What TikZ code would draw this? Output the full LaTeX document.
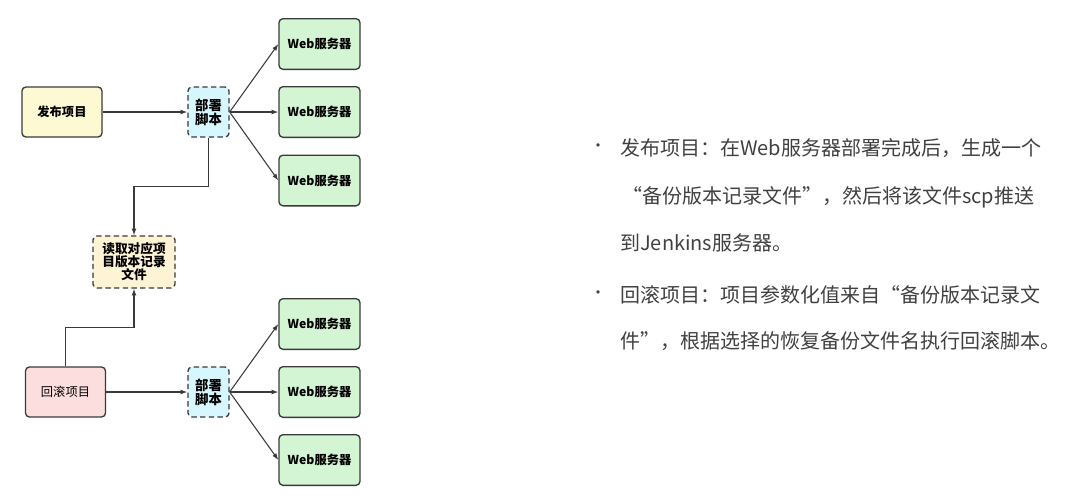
\documentclass[tikz,border=0pt]{standalone}
\usepackage{fontspec}
\setmainfont{Noto Sans CJK SC}
\usepackage{xcolor}
\usetikzlibrary{arrows.meta,positioning,calc}
\definecolor{edgegray}{HTML}{3A3A3A}
\definecolor{txtgray}{HTML}{404040}
\definecolor{pubfill}{HTML}{FDFAD3}
\definecolor{scrfill}{HTML}{D6F7FD}
\definecolor{webfill}{HTML}{D4F5D4}
\definecolor{rdfill}{HTML}{FFF3D6}
\definecolor{rbfill}{HTML}{FDDEDE}
\tikzset{
	blk/.style={draw=edgegray, rounded corners=3pt, line width=1pt, align=center,
		inner sep=1pt, font=\fontsize{9.2}{11}\selectfont\bfseries},
	pub/.style={blk, fill=pubfill, minimum width=60pt, minimum height=37.5pt},
	rb/.style={pub, fill=rbfill, font=\fontsize{9.2}{11}\selectfont},
	scr/.style={blk, fill=scrfill, dash pattern=on 4pt off 2.5pt,
		minimum width=30.75pt, minimum height=37.5pt, font=\fontsize{10}{10.5}\selectfont\bfseries},
	web/.style={blk, fill=webfill, minimum width=60.75pt, minimum height=38pt},
	rd/.style={blk, fill=rdfill, dash pattern=on 4pt off 2.5pt,
		minimum width=61.5pt, minimum height=39pt, font=\fontsize{9.5}{9.8}\selectfont\bfseries},
	con/.style={draw=edgegray, line width=0.8pt},
	desc/.style={anchor=west, text=txtgray, inner sep=0pt, font=\fontsize{15}{16}\selectfont},
	dot/.style={text=txtgray, inner sep=0pt, font=\fontsize{12}{12}\selectfont},
}

\begin{document}
\begin{tikzpicture}[x=0.75pt, y=-0.75pt, >={Latex[length=5pt,width=3.6pt]}]
	\useasboundingbox (0,0) rectangle (1076,497);
	% publish branch
	\node[pub] at (62,112) (pub) {发布项目};
	\node[scr] at (208.5,112) (scr1) {部署\\脚本};
	\node[web] at (319.5,44) (w1a) {Web服务器};
	\node[web] at (319.5,112) (w1b) {Web服务器};
	\node[web] at (319.5,180.5) (w1c) {Web服务器};
	\draw[con, ->] (pub) -- (scr1);
	\foreach \w in {w1a,w1b,w1c}
		\draw[con, ->] (scr1.east) -- (\w.west);
	% version file
	\node[rd] at (134,262) (rd) {读取对应项\\目版本记录\\文件};
	\draw[con, ->] (scr1.south) -- ++(0,49) -| (rd.north);
	% rollback branch
	\node[rb] at (65.5,392) (rb) {回滚项目};
	\node[scr] at (208.5,392) (scr2) {部署\\脚本};
	\node[web] at (319.5,324) (w2a) {Web服务器};
	\node[web] at (319.5,392) (w2b) {Web服务器};
	\node[web] at (319.5,460) (w2c) {Web服务器};
	\draw[con, ->] (rb) -- (scr2);
	\foreach \w in {w2a,w2b,w2c}
		\draw[con, ->] (scr2.east) -- (\w.west);
	\draw[con, ->] (rb.north) -- ++(0,-39) -| (rd.south);
	% description
	\node[dot] at (598,148) (b1) {•};
	\node[desc] at (620,148) (d1a) {发布项目：在Web服务器部署完成后，生成一个};
	\node[desc] at (622,197) (d1b) {“备份版本记录文件”，然后将该文件scp推送};
	\node[desc] at (620,243) (d1c) {到Jenkins服务器。};
	\node[dot] at (598,295) (b2) {•};
	\node[desc] at (620,295) (d2a) {回滚项目：项目参数化值来自“备份版本记录文};
	\node[desc] at (620,341) (d2b) {件”，根据选择的恢复备份文件名执行回滚脚本。};
\end{tikzpicture}
\end{document}
